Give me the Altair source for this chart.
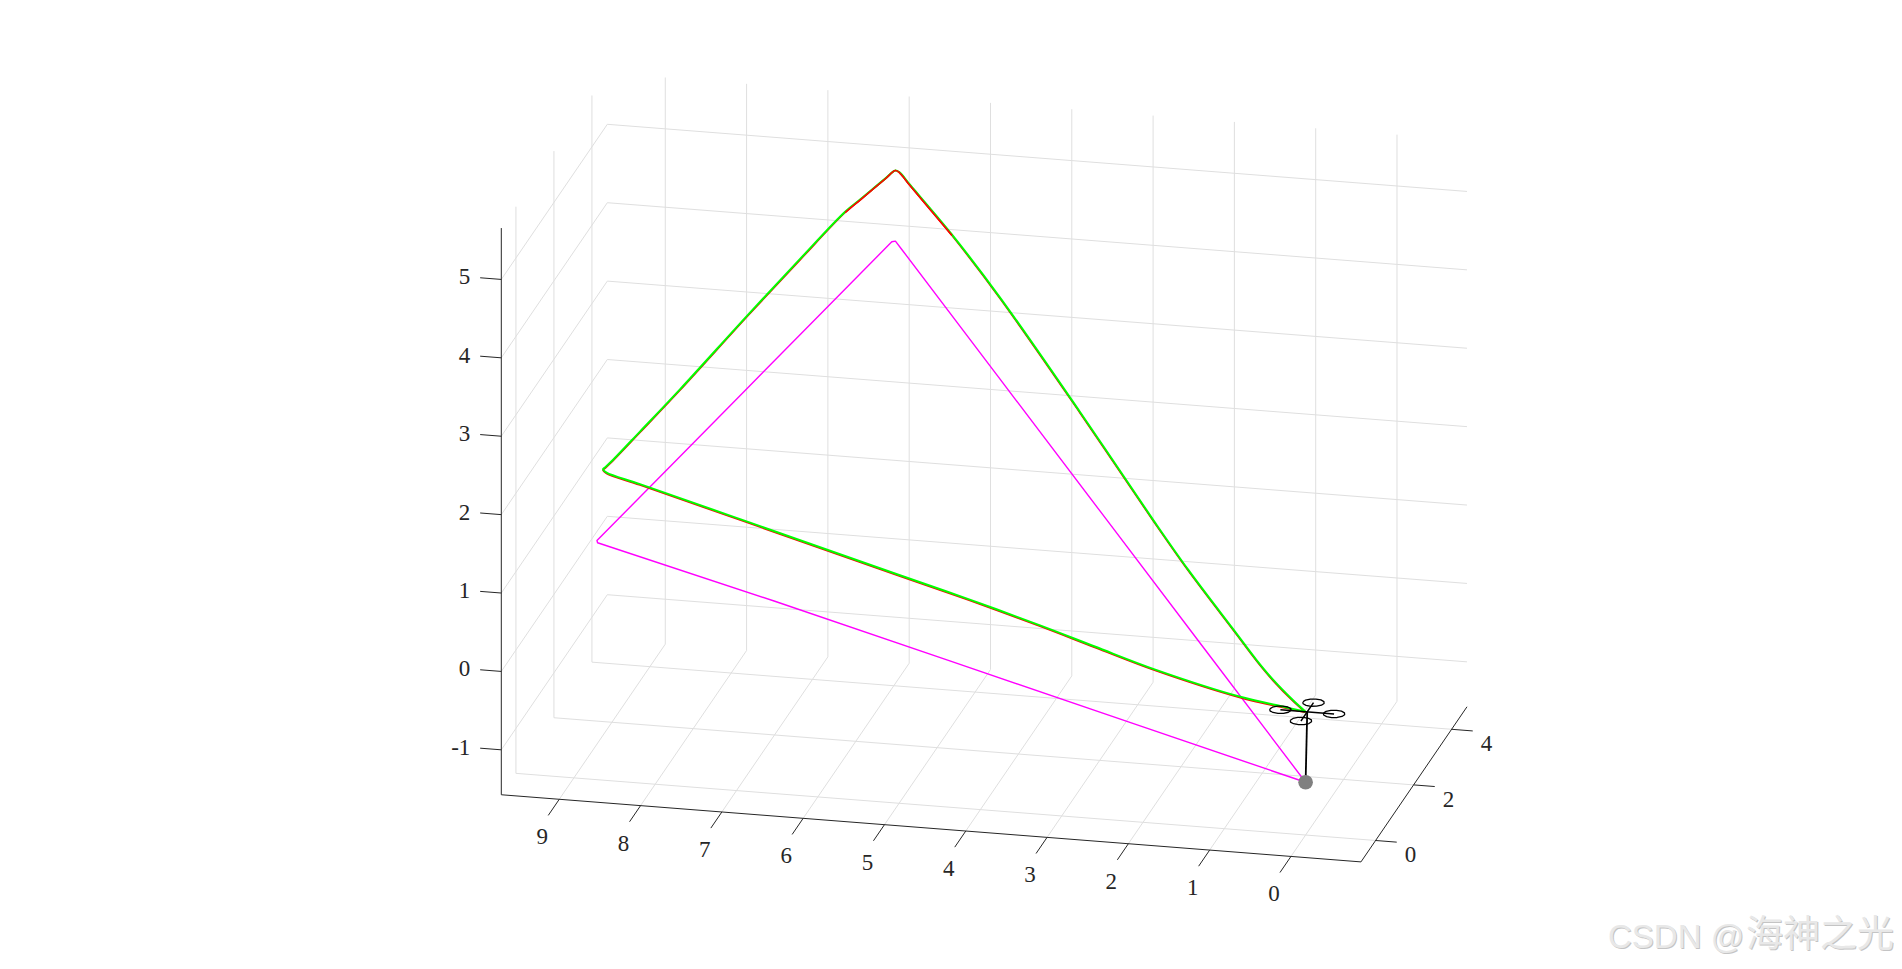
import altair as alt
import pandas as pd

# ---- axis limits and ticks (3-D data units) ----
X_LIM = [-0.861, 9.713]
Y_LIM = [-0.77, 4.81]
Z_LIM = [-1.573, 5.655]
X_TICKS = [0, 1, 2, 3, 4, 5, 6, 7, 8, 9]
Y_TICKS = [0, 2, 4]
Z_TICKS = [-1, 0, 1, 2, 3, 4, 5]

# ---- flown path (green) ----
GX = [0, 0.179, 0.472, 0.712, 1.029, 1.71, 2.218, 3.289, 4.455, 5.155, 5.765, 5.92, 5.98,
      6.081, 6.327, 6.478, 6.924, 7.436, 8.111, 8.507, 8.788, 8.86, 8.875,
      8.831, 8.409, 7.144, 5.125, 4.26, 3.355, 2.663, 1.899, 0.825, 0.32, 0]
GY = [0, 0.12, 0.316, 0.476, 0.688, 1.144, 1.484, 2.2, 2.98, 3.448, 3.856, 3.96, 4,
      3.895, 3.64, 3.484, 3.022, 2.491, 1.792, 1.381, 1.09, 1.015, 1,
      0.995, 0.9475, 0.805, 0.5775, 0.48, 0.378, 0.3, 0.214, 0.093, 0.036, 0]
GZ = [0, 0.086, 0.255, 0.429, 0.694, 1.264, 1.735, 2.776, 3.865, 4.445, 4.884, 4.995, 5,
      4.926, 4.732, 4.617, 4.143, 3.583, 2.822, 2.397, 2.099, 2.033, 2.018,
      1.982, 1.886, 1.592, 1.12, 0.92, 0.695, 0.509, 0.307, 0.09, 0.033, 0]
# ---- reference path (red): a hair below the green one ----
RZ = [-0.01, 0.074, 0.243, 0.417, 0.682, 1.252, 1.723, 2.764, 3.853, 4.433, 4.874, 4.99, 5,
      4.922, 4.726, 4.607, 4.131, 3.571, 2.81, 2.385, 2.087, 2.021, 2.006,
      1.97, 1.874, 1.58, 1.108, 0.908, 0.683, 0.497, 0.295, 0.078, 0.021, -0.01]
# ---- ground track (magenta) ----
MX = [0, 1.495, 2.99, 4.485, 5.89, 5.98, 6.02, 6.753, 7.485, 8.218, 8.891, 8.95,
      8.94, 6.713, 4.475, 2.238, 0.448, 0]
MY = [0, 1, 2, 3, 3.94, 4, 3.98, 3.235, 2.49, 1.745, 1.06, 1,
      0.99, 0.75, 0.5, 0.25, 0.05, 0]
MZ = [-0.9, 0.35, 1.6, 2.85, 4.025, 4.1, 4.095, 3.347, 2.599, 1.851, 1.163, 1.103,
      1.08, 0.602, 0.102, -0.399, -0.8, -0.9]

# ---- quadrotor ----
HUB_X = -0.02
ARM = 0.33
ROTOR_DX = [0.13, 0.113, 0.065, 0, -0.065, -0.113, -0.13, -0.113, -0.065, 0, 0.065, 0.113, 0.13]
ROTOR_DY = [0, 0.065, 0.113, 0.13, 0.113, 0.065, 0, -0.065, -0.113, -0.13, -0.113, -0.065, 0]
BALL_Z = -0.9

# ---- orthographic view of the MATLAB axes ----
U0, V0 = 1297.6, 703.7
UX, UY = -81.3, 19.0
VX, VY, VZ = 6.35, 27.8, 78.4

W, H = 1886, 953
xs = alt.Scale(domain=[0, W], range=[0, W], nice=False, zero=False)
ys = alt.Scale(domain=[0, H], range=[0, H], nice=False, zero=False)


def proj(x, y, z):
    return U0 + UX * x + UY * y, V0 - VX * x - VY * y - VZ * z


def frame(lines):
    rows = []
    for i, pts in enumerate(lines):
        for k, (x, y, z) in enumerate(pts):
            u, v = proj(x, y, z)
            rows.append({"u": u, "v": v, "id": i, "k": k})
    return pd.DataFrame(rows)


def lines_layer(lines, color, width, interpolate="linear"):
    return alt.Chart(frame(lines)).mark_line(
        stroke=color, strokeWidth=width, strokeJoin="round", interpolate=interpolate
    ).encode(
        x=alt.X("u:Q", scale=xs, axis=None),
        y=alt.Y("v:Q", scale=ys, axis=None),
        detail="id:N",
        order="k:Q",
    )


def labels_layer(pts, texts, dx, dy, align="center"):
    rows = []
    for (x, y, z), t in zip(pts, texts):
        u, v = proj(x, y, z)
        rows.append({"u": u, "v": v, "t": t})
    return alt.Chart(pd.DataFrame(rows)).mark_text(
        font="Liberation Serif", fontSize=23, color="#262626", align=align, baseline="middle", dx=dx, dy=dy
    ).encode(
        x=alt.X("u:Q", scale=xs, axis=None),
        y=alt.Y("v:Q", scale=ys, axis=None),
        text="t:N",
    )


x0, x1 = X_LIM
y0, y1 = Y_LIM
z0, z1 = Z_LIM

grid = []
for t in X_TICKS:
    grid.append([(t, y0, z0), (t, y1, z0), (t, y1, z1)])
for t in Y_TICKS:
    grid.append([(x0, t, z0), (x1, t, z0), (x1, t, z1)])
for t in Z_TICKS:
    grid.append([(x1, y0, t), (x1, y1, t), (x0, y1, t)])

axes = [
    [(x1, y0, z0), (x1, y0, z1)],
    [(x1, y0, z0), (x0, y0, z0)],
    [(x0, y0, z0), (x0, y1, z0)],
]
for t in X_TICKS:
    axes.append([(t, y0, z0), (t, y0 - 0.58, z0)])
for t in Y_TICKS:
    axes.append([(x0, t, z0), (x0 - 0.26, t, z0)])
for t in Z_TICKS:
    axes.append([(x1, y0, t), (x1 + 0.26, y0, t)])

green = [list(zip(GX, GY, GZ))]
red_all = list(zip(GX, GY, RZ))
red = [red_all]
red_top = [red_all[9:16]]
magenta = [list(zip(MX, MY, MZ))]

arms = [
    [(HUB_X - ARM, 0, 0), (HUB_X + ARM, 0, 0)],
    [(HUB_X, -ARM, 0), (HUB_X, ARM, 0)],
]
stem = [[(HUB_X, 0, 0), (0, 0, BALL_Z)]]
rotors = []
for cx, cy in [(HUB_X + ARM, 0), (HUB_X - ARM, 0), (HUB_X, ARM), (HUB_X, -ARM)]:
    rotors.append([(cx + a, cy + b, 0) for a, b in zip(ROTOR_DX, ROTOR_DY)])

bu, bv = proj(0, 0, BALL_Z)
ball = alt.Chart(pd.DataFrame({"u": [bu], "v": [bv]})).mark_point(
    filled=True, shape="circle", color="#808080", opacity=1, size=215
).encode(x=alt.X("u:Q", scale=xs, axis=None), y=alt.Y("v:Q", scale=ys, axis=None))

x_labels = labels_layer([(t, y0, z0) for t in X_TICKS], [str(t) for t in X_TICKS], -17, 38)
y_labels = labels_layer([(x0, t, z0) for t in Y_TICKS], [str(t) for t in Y_TICKS], 35, 15)
z_labels = labels_layer([(x1, y0, t) for t in Z_TICKS], [str(t) for t in Z_TICKS], -31, -2, align="right")


def mark(text, x, y, size, color):
    return alt.Chart(pd.DataFrame({"t": [text]})).mark_text(
        font="Liberation Sans, Noto Sans CJK SC", fontSize=size, color=color, align="left", baseline="middle"
    ).encode(x=alt.value(x), y=alt.value(y), text="t:N")


wm = (
    mark("CSDN @", 1601, 931, 33, "#c4c4c4")
    + mark("海神之光", 1739, 929, 37, "#c4c4c4")
    + mark("CSDN @", 1600, 930, 33, "#e8e8e8")
    + mark("海神之光", 1738, 928, 37, "#e8e8e8")
)

chart = alt.layer(
    lines_layer(grid, "#dfdfdf", 1),
    lines_layer(axes, "#262626", 1),
    x_labels,
    y_labels,
    z_labels,
    lines_layer(magenta, "#ff00ff", 1.4),
    lines_layer(red, "#ff0000", 1.6, "catmull-rom"),
    lines_layer(green, "#00ff00", 2, "catmull-rom"),
    lines_layer(red_top, "#ff0000", 1.6, "catmull-rom"),
    lines_layer(stem, "#000000", 1.8),
    lines_layer(arms, "#000000", 1.5),
    lines_layer(rotors, "#000000", 1.3),
    ball,
    wm,
).properties(width=W, height=H, padding=0, autosize=alt.AutoSizeParams(type="none"), background="white").configure_view(stroke=None)

chart.save("out.html", embed_options={"renderer": "svg", "actions": False})
